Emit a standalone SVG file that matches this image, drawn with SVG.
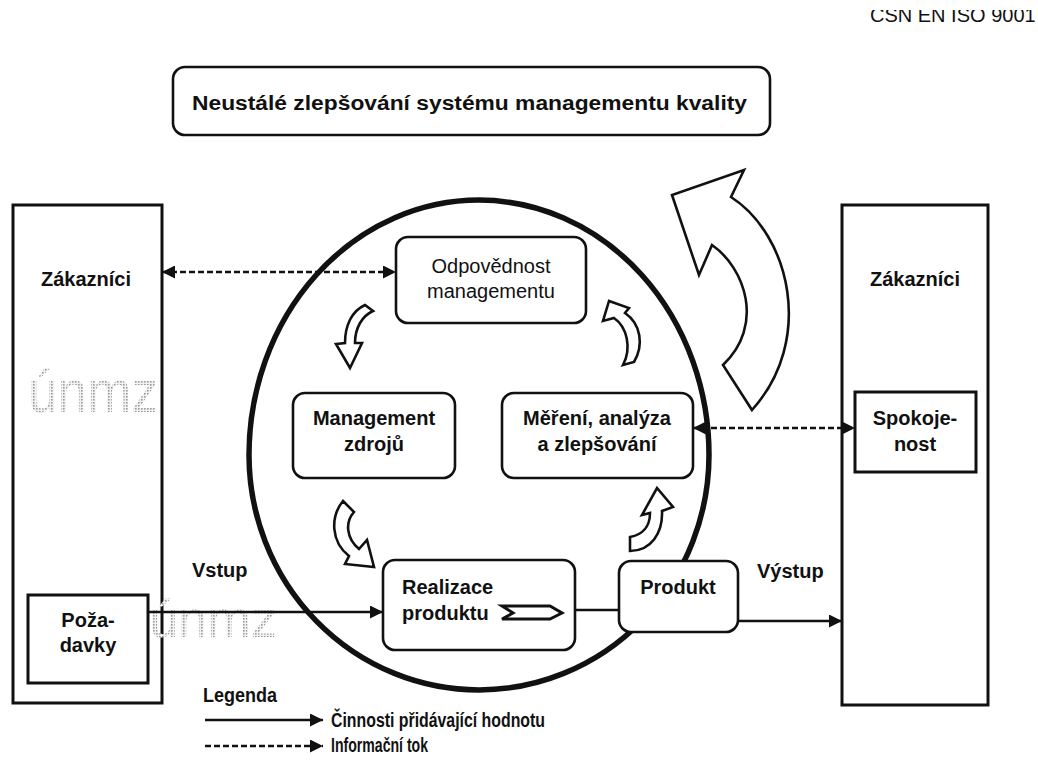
<svg xmlns="http://www.w3.org/2000/svg" width="1038" height="767" viewBox="0 0 1038 767">
  <style>
    text { font-family: "Liberation Sans", Arial, sans-serif; fill: #111; }
    .b { font-weight: bold; font-size: 20px; }
    .r { font-size: 20px; }
    .c { text-anchor: middle; }
    .frame { fill: #fff; stroke: #111; stroke-width: 3; }
    .box { fill: #fff; stroke: #111; stroke-width: 2.6; }
    .flow { fill: none; stroke: #111; stroke-width: 2.6; }
    .info { fill: none; stroke: #111; stroke-width: 2.4; stroke-dasharray: 6 3; }
    .turn { fill: #fff; stroke: #111; stroke-width: 2.6; stroke-linejoin: miter; }
    .ring { fill: none; stroke: #111; stroke-width: 5.5; }
    .wm { fill: url(#halftone); }
  </style>
  <defs>
    <marker id="ah" viewBox="0 0 10 10" refX="10" refY="5" markerUnits="userSpaceOnUse" markerWidth="15" markerHeight="13" orient="auto-start-reverse">
      <path d="M0,0 L10,5 L0,10 Z" fill="#111" stroke="none"/>
    </marker>
    <pattern id="halftone" width="3" height="3" patternUnits="userSpaceOnUse">
      <rect width="3" height="3" fill="#f2f2f2"/>
      <rect width="1.6" height="1.6" fill="#9a9a9a"/>
    </pattern>
    <clipPath id="cut">
      <rect x="0" y="10" width="1038" height="757"/>
    </clipPath>
  </defs>

  <!-- header line, top edge trimmed -->
  <text x="870" y="22" font-size="20" clip-path="url(#cut)">ČSN EN ISO 9001</text>

  <!-- continual improvement banner -->
  <g id="improvement">
    <rect class="box" x="173" y="67" width="597" height="68" rx="12"/>
    <text class="b" x="192" y="110" font-size="22" textLength="555" lengthAdjust="spacingAndGlyphs">Neustálé zlepšování systému managementu kvality</text>
  </g>

  <!-- process ring -->
  <path id="ring" class="ring" d="M 249,455 A 230 255 0 0 1 709,455 A 230 235 0 0 1 249,455 Z"/>

  <!-- customers, input side -->
  <g id="customers-in">
    <rect class="frame" x="13" y="205" width="149" height="498"/>
    <text class="b c" x="86" y="286">Zákazníci</text>
  </g>
  <!-- customers, output side -->
  <g id="customers-out">
    <rect class="frame" x="842" y="205" width="146" height="500"/>
    <text class="b c" x="915" y="286">Zákazníci</text>
  </g>

  <!-- watermarks -->
  <text class="wm" x="28" y="412" font-size="60" textLength="130" lengthAdjust="spacingAndGlyphs">únmz</text>
  <text class="wm" x="149" y="637" font-size="52" textLength="128" lengthAdjust="spacingAndGlyphs">únmz</text>

  <g id="requirements">
    <rect class="frame" x="28" y="595" width="120" height="88"/>
    <text class="b c" x="88" y="627">Poža-</text>
    <text class="b c" x="88" y="652">davky</text>
  </g>
  <g id="satisfaction">
    <rect class="frame" x="855" y="392" width="121" height="80"/>
    <text class="b c" x="915" y="425">Spokoje-</text>
    <text class="b c" x="915" y="451">nost</text>
  </g>

  <!-- connectors -->
  <g id="connectors">
    <path class="info" d="M 162,272 H 396" marker-start="url(#ah)" marker-end="url(#ah)"/>
    <path class="info" d="M 693,428 H 855" marker-start="url(#ah)" marker-end="url(#ah)"/>
    <path class="flow" d="M 148,612 H 383" marker-end="url(#ah)"/>
    <path class="flow" d="M 575,610 H 619"/>
    <path class="flow" d="M 738,621 H 842" marker-end="url(#ah)"/>
    <text class="b" x="192" y="577">Vstup</text>
    <text class="b" x="757" y="578">Výstup</text>
  </g>

  <g id="management-responsibility">
    <rect class="box" x="396" y="237" width="190" height="86" rx="12"/>
    <text class="r c" x="491" y="273">Odpovědnost</text>
    <text class="r c" x="491" y="298">managementu</text>
  </g>
  <g id="resource-management">
    <rect class="box" x="293" y="393" width="162" height="85" rx="12"/>
    <text class="b c" x="374" y="425">Management</text>
    <text class="b c" x="374" y="451">zdrojů</text>
  </g>
  <g id="measurement">
    <rect class="box" x="502" y="393" width="191" height="85" rx="12"/>
    <text class="b c" x="597" y="425">Měření, analýza</text>
    <text class="b c" x="597" y="451">a zlepšování</text>
  </g>
  <g id="realization">
    <rect class="box" x="383" y="560" width="192" height="90" rx="12"/>
    <text class="b" x="402" y="594">Realizace</text>
    <text class="b" x="402" y="620">produktu</text>
    <polygon points="502,606 550,606 562,613 550,619 502,619 513,613" fill="#fff" stroke="#111" stroke-width="3"/>
  </g>
  <g id="product">
    <rect class="box" x="619" y="561" width="119" height="71" rx="12"/>
    <text class="b c" x="678" y="594">Produkt</text>
  </g>

  <!-- cycle arrows inside the ring -->
  <g id="cycle-arrows">
    <path class="turn" d="M 365,305 C 352,311 345,325 345,343 L 336,344 L 350,368 L 362,343 L 355,343 C 355,328 362,316 373,311 Z"/>
    <path class="turn" d="M 609,301 L 603,321 L 614,318 C 627,327 632,348 623,365 L 634,362 C 644,345 641,324 625,313 L 629,308 Z"/>
    <path class="turn" d="M 343,501 C 330,517 331,542 349,556 L 345,564 L 374,567 L 367,540 L 359,549 C 346,538 345,522 354,512 Z"/>
    <path class="turn" d="M 630,537 C 642,535 650,527 650,513 L 642,515 L 657,488 L 673,507 L 662,511 C 663,533 651,551 630,551 Z"/>
  </g>

  <!-- improvement loop arrow -->
  <path id="loop-arrow" class="turn" stroke-width="3" d="M 672,195 L 699,275 L 712,245 C 745,268 765,325 723,365 L 752,410 C 815,340 790,235 731,197 L 744,170 Z"/>

  <!-- legend -->
  <g id="legend">
    <text class="b" x="203" y="702" font-size="16" textLength="74" lengthAdjust="spacingAndGlyphs">Legenda</text>
    <path class="flow" d="M 205,720 H 323" marker-end="url(#ah)"/>
    <text class="b" x="331" y="727" font-size="15" textLength="214" lengthAdjust="spacingAndGlyphs">Činnosti přidávající hodnotu</text>
    <path class="info" d="M 205,746 H 323" marker-end="url(#ah)"/>
    <text class="b" x="331" y="752" font-size="15" textLength="97" lengthAdjust="spacingAndGlyphs">Informační tok</text>
  </g>
</svg>
